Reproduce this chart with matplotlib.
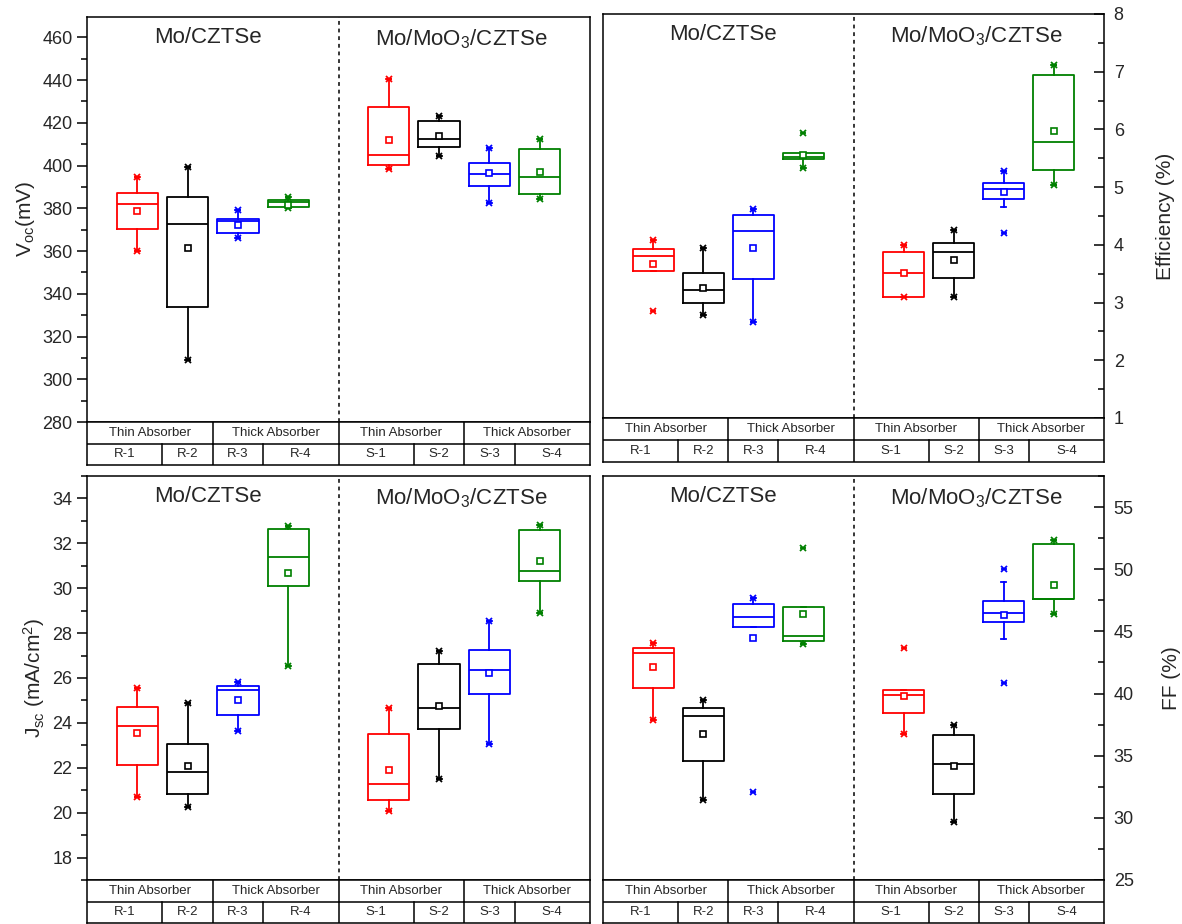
import matplotlib
matplotlib.use("Agg")
import matplotlib.pyplot as plt
import matplotlib.transforms as mtrans
from matplotlib.ticker import MultipleLocator

plt.rcParams['font.family'] = ['Liberation Sans', 'DejaVu Sans']
plt.rcParams['mathtext.default'] = 'regular'

# ---------------- data ----------------
samples = ["R-1", "R-2", "R-3", "R-4", "S-1", "S-2", "S-3", "S-4"]
groups = ["Thin Absorber", "Thick Absorber", "Thin Absorber", "Thick Absorber"]
substrates = ["Mo/CZTSe", "Mo/MoO$_3$/CZTSe"]
colors = ["#FF0000", "#000000", "#0000FF", "#008000"] * 2

# Voc (mV)
voc_wlo  = [360.0, 309.0, 366.3, 380.0, 398.2, 404.4, 382.3, 384.2]
voc_q1   = [370.3, 334.0, 368.2, 380.8, 400.4, 408.6, 390.6, 386.9]
voc_med  = [381.9, 372.8, 374.0, 382.8, 405.1, 412.6, 396.0, 394.5]
voc_q3   = [387.0, 385.5, 375.0, 383.9, 427.3, 420.7, 401.2, 407.9]
voc_whi  = [394.6, 399.3, 379.4, 385.3, 440.6, 423.0, 408.2, 412.4]
voc_mean = [378.7, 361.2, 372.4, 381.5, 411.8, 413.6, 396.4, 397.1]
voc_min  = [360.0, 309.0, 366.3, 380.0, 398.2, 404.4, 382.3, 384.2]
voc_max  = [394.6, 399.3, 379.4, 385.3, 440.6, 423.0, 408.2, 412.4]

# Efficiency (%)
eff_wlo  = [3.54, 2.79, 2.66, 5.34, 3.10, 3.10, 4.65, 5.03]
eff_q1   = [3.54, 2.99, 3.40, 5.48, 3.10, 3.43, 4.79, 5.29]
eff_med  = [3.80, 3.21, 4.24, 5.53, 3.51, 3.87, 4.97, 5.78]
eff_q3   = [3.93, 3.51, 4.51, 5.59, 3.87, 4.04, 5.07, 6.94]
eff_whi  = [4.08, 3.95, 4.62, 5.59, 4.00, 4.26, 5.28, 7.12]
eff_mean = [3.67, 3.26, 3.94, 5.55, 3.52, 3.74, 4.91, 5.98]
eff_min  = [2.85, 2.79, 2.66, 5.34, 3.10, 3.10, 4.20, 5.03]
eff_max  = [4.08, 3.95, 4.62, 5.93, 4.00, 4.26, 5.28, 7.12]

# Jsc (mA/cm2)
jsc_wlo  = [20.69, 20.27, 23.64, 26.54, 20.06, 21.52, 23.05, 28.89]
jsc_q1   = [22.12, 20.84, 24.36, 30.10, 20.55, 23.74, 25.29, 30.32]
jsc_med  = [23.86, 21.81, 25.45, 31.39, 21.26, 24.65, 26.36, 30.75]
jsc_q3   = [24.70, 23.08, 25.64, 32.65, 23.51, 26.64, 27.26, 32.58]
jsc_whi  = [25.57, 24.90, 25.83, 32.79, 24.66, 27.19, 28.53, 32.83]
jsc_mean = [23.55, 22.08, 25.03, 30.70, 21.90, 24.75, 26.24, 31.21]
jsc_min  = [20.69, 20.27, 23.64, 26.54, 20.06, 21.52, 23.05, 28.89]
jsc_max  = [25.57, 24.90, 25.83, 32.79, 24.66, 27.19, 28.53, 32.83]

# FF (%)
ff_wlo  = [37.89, 31.42, 45.37, 43.96, 36.74, 29.68, 44.36, 46.36]
ff_q1   = [40.48, 34.60, 45.37, 44.22, 38.42, 31.93, 45.75, 47.57]
ff_med  = [43.24, 38.21, 46.18, 44.65, 39.87, 34.36, 46.44, 47.57]
ff_q3   = [43.69, 38.85, 47.19, 46.98, 40.29, 36.68, 47.43, 52.06]
ff_whi  = [44.09, 39.49, 47.70, 46.98, 40.29, 37.43, 48.96, 52.33]
ff_mean = [42.11, 36.74, 44.44, 46.36, 39.81, 34.14, 46.34, 48.77]
ff_min  = [37.89, 31.42, 32.06, 43.96, 36.74, 29.68, 40.83, 46.36]
ff_max  = [44.09, 39.49, 47.70, 51.74, 43.69, 37.43, 50.05, 52.33]

# ---------------- layout ----------------
W, H = 1182, 924
fig = plt.figure(figsize=(W / 100, H / 100), dpi=100)

def fr(x0, y0, x1, y1):
    return [x0 / W, 1 - y1 / H, (x1 - x0) / W, (y1 - y0) / H]

positions = [1, 2, 3, 4, 6, 7, 8, 9]
TXT = "#262626"

panels = [
    dict(plot=fr(87, 17, 590, 422), table=fr(87, 422, 590, 465), side="left",
         data=(voc_wlo, voc_q1, voc_med, voc_q3, voc_whi, voc_mean, voc_min, voc_max),
         ylim=(280, 469.5), major=20, minor=10, label="V$_{oc}$(mV)", pad=4),
    dict(plot=fr(603, 14, 1104, 418), table=fr(603, 418, 1104, 462), side="right",
         data=(eff_wlo, eff_q1, eff_med, eff_q3, eff_whi, eff_mean, eff_min, eff_max),
         ylim=(1, 8), major=1, minor=0.5, label="Efficiency (%)", pad=23),
    dict(plot=fr(87, 476, 590, 880), table=fr(87, 880, 590, 923), side="left",
         data=(jsc_wlo, jsc_q1, jsc_med, jsc_q3, jsc_whi, jsc_mean, jsc_min, jsc_max),
         ylim=(17, 35), major=2, minor=1, label="J$_{sc}$ (mA/cm$^2$)", pad=4),
    dict(plot=fr(603, 476, 1104, 880), table=fr(603, 880, 1104, 923), side="right",
         data=(ff_wlo, ff_q1, ff_med, ff_q3, ff_whi, ff_mean, ff_min, ff_max),
         ylim=(25, 57.5), major=5, minor=2.5, label="FF (%)", pad=20),
]

group_edges = [0, 2.5, 5, 7.5, 10]
sample_edges = [0, 1.5, 2.5, 3.5, 5, 6.5, 7.5, 8.5, 10]

for p in panels:
    ax = fig.add_axes(p["plot"])
    wlo, q1, med, q3, whi, mean, mn, mx = p["data"]
    for i, pos in enumerate(positions):
        c = colors[i]
        st = dict(med=med[i], q1=q1[i], q3=q3[i], whislo=wlo[i], whishi=whi[i],
                  mean=mean[i], fliers=[])
        ax.bxp([st], positions=[pos], widths=0.82, showmeans=True, showcaps=True,
               capwidths=0.1, showfliers=False,
               boxprops=dict(color=c, lw=1.3),
               whiskerprops=dict(color=c, lw=1.3),
               capprops=dict(color=c, lw=1.3),
               medianprops=dict(color=c, lw=1.3),
               meanprops=dict(marker='s', markerfacecolor='white', markeredgecolor=c,
                              markersize=4.3, markeredgewidth=1.2))
        ax.plot([pos, pos], [mn[i], mx[i]], ls='none', marker='x', color=c,
                markersize=4.5, mew=1.3)
        ax.plot([pos, pos], [mn[i], mx[i]], ls='none', marker='_', color=c,
                markersize=5, mew=1.3)
    ax.axvline(5, color='black', ls=(0, (2.5, 2.5)), lw=1.1)
    ax.set_xlim(0, 10)
    ax.set_ylim(*p["ylim"])
    ax.set_xticks([])
    ax.yaxis.set_major_locator(MultipleLocator(p["major"]))
    ax.yaxis.set_minor_locator(MultipleLocator(p["minor"]))
    for s in ax.spines.values():
        s.set_linewidth(1.1)
    if p["side"] == "left":
        ax.tick_params(axis='y', which='major', direction='out', length=7, width=1.1,
                       labelsize=13, labelcolor=TXT)
        ax.tick_params(axis='y', which='minor', direction='out', length=4, width=1.1)
    else:
        ax.yaxis.tick_right()
        ax.yaxis.set_label_position("right")
        ax.tick_params(axis='y', which='major', direction='in', length=7, width=1.1,
                       labelsize=13, labelcolor=TXT, pad=7)
        ax.tick_params(axis='y', which='minor', direction='in', length=4, width=1.1)
    ax.set_ylabel(p["label"], fontsize=15, color=TXT, labelpad=p["pad"])
    bt = mtrans.blended_transform_factory(ax.transData, ax.transAxes)
    ax.text(2.4, 0.95, substrates[0], transform=bt,
            ha='center', va='center', fontsize=16, color=TXT)
    ax.text(7.45, 0.945, substrates[1], transform=bt,
            ha='center', va='center', fontsize=16, color=TXT)

    # category table under the plot
    tb = fig.add_axes(p["table"])
    tb.set_xlim(0, 10)
    tb.set_ylim(0, 2)
    tb.set_xticks([])
    tb.set_yticks([])
    for s in tb.spines.values():
        s.set_linewidth(1.1)
    tb.axhline(1, color='black', lw=1.1)
    for e in group_edges[1:-1]:
        tb.plot([e, e], [1, 2], color='black', lw=1.1)
    for e in sample_edges[1:-1]:
        tb.plot([e, e], [0, 1], color='black', lw=1.1)
    for k, g in enumerate(groups):
        tb.text((group_edges[k] + group_edges[k + 1]) / 2, 1.5, g, ha='center',
                va='center', fontsize=9.5, color=TXT)
    for k, sm in enumerate(samples):
        tb.text((sample_edges[k] + sample_edges[k + 1]) / 2, 0.5, sm, ha='center',
                va='center', fontsize=9.5, color=TXT)

fig.savefig("out.png", dpi=100)
